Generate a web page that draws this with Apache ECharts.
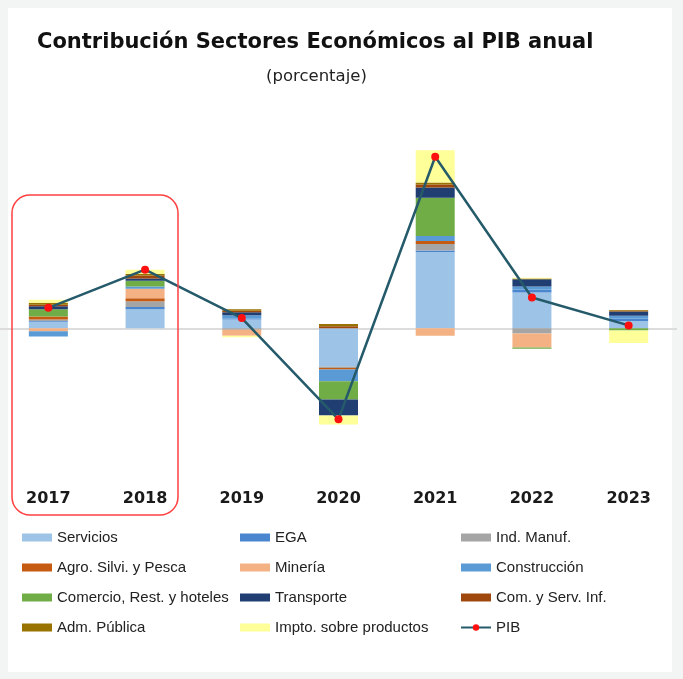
<!DOCTYPE html>
<html>
<head>
<meta charset="utf-8">
<script src="https://cdn.jsdelivr.net/npm/echarts@6/dist/echarts.min.js"></script>
<style>
  html, body { margin: 0; padding: 0; background: #f3f5f5; }
  #main { width: 683px; height: 679px; }
</style>
</head>
<body>
<div id="main"></div>
<script>
var years = ['2017', '2018', '2019', '2020', '2021', '2022', '2023'];

// contribucion de cada sector (puntos porcentuales)
var servicios    = [0.45, 1.3, 0.6, -2.6, 5.2, 2.45, 0.5];
var ega          = [0.05, 0.15, 0.05, 0, 0.1, 0.2, 0.15];
var indManuf     = [0.1, 0.4, -0.1, -0.1, 0.45, -0.35, 0];
var agro         = [0.2, 0.2, 0, -0.1, 0.2, 0, 0];
var mineria      = [-0.2, 0.65, -0.4, 0, -0.5, -0.95, 0];
var construccion = [-0.35, 0.15, 0.25, -0.8, 0.35, 0.2, 0.2];
var comercio     = [0.5, 0.4, 0, -1.25, 2.6, -0.1, -0.15];
var transporte   = [0.2, 0.15, 0.2, -1.1, 0.7, 0.5, 0.3];
var comServ      = [0.1, 0.2, 0.1, 0.15, 0.2, 0, 0.05];
var admPublica   = [0.15, 0.1, 0.1, 0.15, 0.15, 0.05, 0.05];
var impto        = [0.2, 0.3, -0.1, -0.6, 2.2, 0.05, -0.85];
var pib          = [1.4, 4.0, 0.7, -6.2, 11.7, 2.1, 0.2];

var sectores = [
    {name: 'Servicios', data: servicios, color: '#9dc3e6'},
    {name: 'EGA', data: ega, color: '#4a86cf'},
    {name: 'Ind. Manuf.', data: indManuf, color: '#a5a5a5'},
    {name: 'Agro. Silvi. y Pesca', data: agro, color: '#c55a11'},
    {name: 'Minería', data: mineria, color: '#f4b183'},
    {name: 'Construcción', data: construccion, color: '#5b9bd5'},
    {name: 'Comercio, Rest. y hoteles', data: comercio, color: '#70ad47'},
    {name: 'Transporte', data: transporte, color: '#203e72'},
    {name: 'Com. y Serv. Inf.', data: comServ, color: '#9e480e'},
    {name: 'Adm. Pública', data: admPublica, color: '#997300'},
    {name: 'Impto. sobre productos', data: impto, color: '#ffff99'}
];

var chart = echarts.init(document.getElementById('main'));

var series = [];
for (var i = 0; i < sectores.length; i++) {
    series.push({
        name: sectores[i].name,
        type: 'bar',
        stack: 'pib',
        barWidth: 39,
        itemStyle: {color: sectores[i].color},
        data: sectores[i].data
    });
}
series.push({
    name: 'PIB',
    type: 'line',
    z: 10,
    symbol: 'circle',
    symbolSize: 8,
    lineStyle: {color: '#245a6a', width: 2.5},
    itemStyle: {color: '#ff1010', borderWidth: 0},
    data: pib,
    markLine: {
        silent: true,
        symbol: 'none',
        label: {show: false},
        lineStyle: {color: '#dcdcdc', width: 2, type: 'solid'},
        data: [{yAxis: 0}],
        z: 0
    }
});

var legendText = {
    fontFamily: 'Liberation Sans Narrow, Liberation Sans, sans-serif',
    fontSize: 15,
    color: '#222'
};

function legendCol(left, names) {
    var items = names.map(function (n) {
        return n === 'PIB' ? {name: n} : {name: n, icon: 'rect'};
    });
    return {
        orient: 'vertical',
        left: left,
        top: 525,
        itemWidth: 30,
        itemHeight: 8,
        itemGap: 15,
        textStyle: legendText,
        data: items
    };
}

option = {
    backgroundColor: '#f3f5f5',
    animation: false,
    graphic: [
        {type: 'rect', z: -10, shape: {x: 8, y: 8, width: 664, height: 664},
            style: {fill: '#ffffff'}},
        {type: 'rect', z: 100, shape: {x: 12, y: 195, width: 166, height: 320, r: 18},
            style: {fill: 'none', stroke: '#ff4040', lineWidth: 1.5}}
    ],
    title: [
        {
            text: 'Contribución Sectores Económicos al PIB anual',
            left: 32, top: 27,
            textStyle: {fontFamily: 'DejaVu Sans', fontSize: 21, fontWeight: 'bold', color: '#111'}
        },
        {
            text: '(porcentaje)',
            left: 261, top: 63,
            textStyle: {fontFamily: 'DejaVu Sans', fontSize: 16.5, fontWeight: 'normal', color: '#222'}
        }
    ],
    legend: [
        legendCol(17, ['Servicios', 'Agro. Silvi. y Pesca', 'Comercio, Rest. y hoteles', 'Adm. Pública']),
        legendCol(235, ['EGA', 'Minería', 'Transporte', 'Impto. sobre productos']),
        legendCol(455, ['Ind. Manuf.', 'Construcción', 'Com. y Serv. Inf.', 'PIB'])
    ],
    grid: {left: -4, right: 6, top: 123, bottom: 204, containLabel: false},
    xAxis: {
        type: 'category',
        data: years,
        axisLine: {show: false, onZero: false},
        axisTick: {show: false},
        axisLabel: {
            margin: 16,
            fontFamily: 'DejaVu Sans',
            fontSize: 16,
            fontWeight: 'bold',
            color: '#1a1a1a'
        }
    },
    yAxis: {
        type: 'value',
        min: -10,
        max: 14,
        show: false,
        splitLine: {show: false}
    },
    series: series
};
chart.setOption(option);
</script>
</body>
</html>
